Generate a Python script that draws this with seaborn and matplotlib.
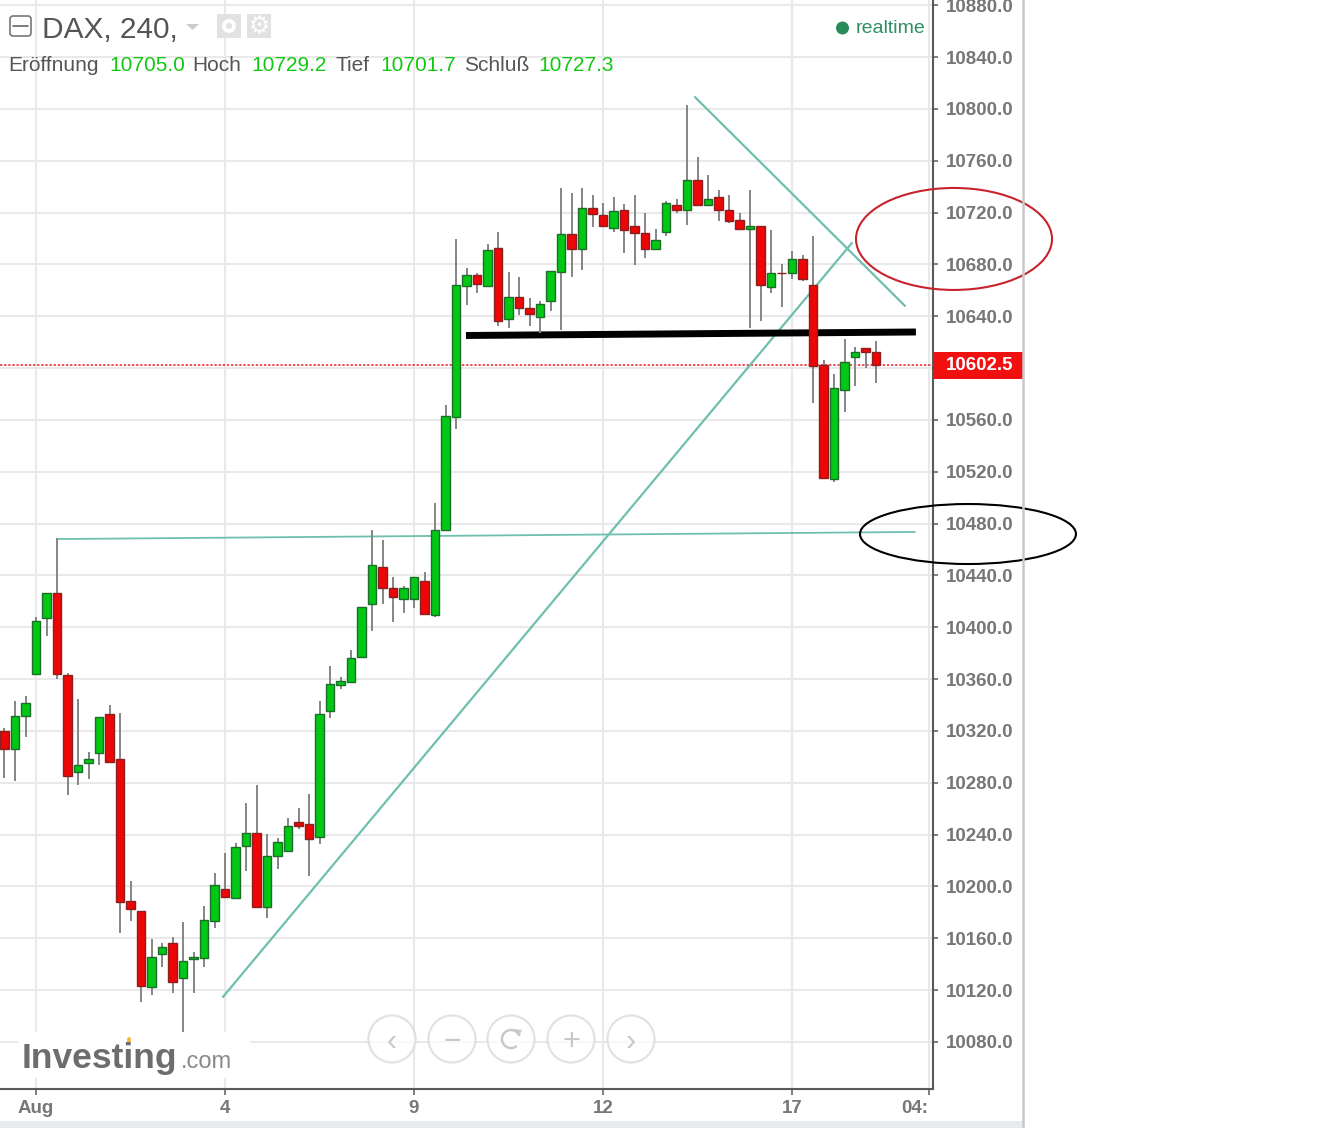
import numpy as np
import pandas as pd
import matplotlib
matplotlib.use('Agg')
import matplotlib.pyplot as plt
import seaborn as sns
from matplotlib.patches import Ellipse, Rectangle, FancyBboxPatch, Circle, Polygon, Arc
from matplotlib.transforms import ScaledTranslation

# DAX 4h candles. bar 0 is the "Aug" tick
bars = list(range(-3, 81))
open_prices = [10320.0, 10305.9, 10331.8, 10364.0, 10407.2, 10426.5, 10363.0, 10288.3, 10295.1, 10303.2,
               10333.3, 10298.4, 10189.0, 10180.8, 10122.2, 10147.9, 10156.4, 10129.1, 10144.1, 10145.1,
               10173.6, 10198.3, 10191.1, 10231.5, 10241.5, 10184.4, 10223.7, 10227.6, 10249.5, 10248.2,
               10238.4, 10335.7, 10355.7, 10357.8, 10377.1, 10418.2, 10446.8, 10430.6, 10422.1, 10422.1,
               10435.7, 10409.7, 10475.1, 10562.5, 10663.6, 10672.1, 10663.6, 10692.5, 10638.2, 10654.7,
               10646.4, 10639.7, 10651.6, 10674.4, 10703.5, 10692.2, 10723.6, 10718.4, 10708.2, 10722.0,
               10709.9, 10704.5, 10692.2, 10705.0, 10726.1, 10722.0, 10745.2, 10726.1, 10731.8, 10722.0,
               10714.1, 10707.1, 10709.9, 10662.4, 10673.7, 10673.4, 10684.0, 10663.9, 10602.7, 10514.2,
               10582.9, 10608.4, 10615.5, 10612.7]
high_prices = [10322.5, 10343.1, 10347.0, 10407.7, 10426.5, 10468.9, 10364.5, 10344.4, 10304.0, 10330.6,
               10340.3, 10333.6, 10204.0, 10180.8, 10159.5, 10156.6, 10160.8, 10172.8, 10149.7, 10184.9,
               10210.6, 10225.6, 10233.3, 10264.7, 10278.1, 10240.5, 10237.6, 10252.6, 10260.8, 10271.4,
               10342.9, 10370.1, 10361.7, 10382.5, 10415.9, 10475.1, 10467.4, 10439.1, 10431.9, 10438.8,
               10442.9, 10495.7, 10571.3, 10699.7, 10677.1, 10673.7, 10695.6, 10705.1, 10674.0, 10670.1,
               10653.9, 10652.1, 10675.0, 10738.8, 10734.9, 10738.8, 10733.4, 10727.7, 10732.1, 10726.7,
               10733.4, 10720.0, 10707.6, 10729.2, 10730.8, 10803.3, 10763.2, 10749.3, 10737.5, 10733.4,
               10720.0, 10737.5, 10709.9, 10706.4, 10680.6, 10690.2, 10687.5, 10702.2, 10606.3, 10595.5,
               10622.3, 10616.1, 10615.5, 10621.2]
low_prices = [10283.5, 10281.4, 10315.1, 10364.0, 10393.3, 10359.9, 10270.4, 10278.3, 10282.7, 10293.5,
              10296.3, 10163.9, 10173.1, 10111.1, 10116.3, 10138.1, 10117.6, 10087.9, 10117.6, 10138.1,
              10167.7, 10192.1, 10191.1, 10212.2, 10184.4, 10175.9, 10213.7, 10227.6, 10244.1, 10208.3,
              10232.6, 10329.8, 10352.4, 10357.8, 10377.1, 10397.4, 10418.0, 10404.3, 10411.3, 10414.9,
              10410.0, 10408.2, 10475.1, 10552.8, 10648.7, 10657.8, 10663.6, 10632.5, 10631.0, 10640.8,
              10632.5, 10627.1, 10644.3, 10629.4, 10670.1, 10675.7, 10709.2, 10709.7, 10705.3, 10689.1,
              10679.6, 10685.0, 10692.2, 10701.7, 10720.0, 10710.7, 10726.1, 10726.1, 10713.8, 10712.2,
              10707.1, 10631.0, 10636.6, 10658.2, 10647.4, 10669.0, 10667.5, 10572.9, 10515.5, 10512.4,
              10566.2, 10586.5, 10599.9, 10588.8]
close_prices = [10305.9, 10331.8, 10341.4, 10404.9, 10426.5, 10364.0, 10285.5, 10294.0, 10298.4, 10330.6,
                10296.3, 10188.3, 10182.8, 10123.2, 10145.6, 10153.5, 10126.3, 10142.7, 10145.6, 10173.9,
                10200.9, 10192.1, 10230.7, 10241.5, 10184.4, 10223.7, 10234.6, 10246.7, 10246.4, 10236.9,
                10333.1, 10356.3, 10358.8, 10376.3, 10415.9, 10448.1, 10430.3, 10423.6, 10430.3, 10438.8,
                10410.0, 10475.1, 10563.1, 10664.2, 10672.1, 10664.9, 10691.2, 10636.6, 10654.7, 10646.2,
                10641.8, 10649.3, 10675.0, 10703.5, 10691.9, 10723.6, 10719.0, 10709.7, 10720.9, 10706.8,
                10704.1, 10692.2, 10699.1, 10727.3, 10722.0, 10745.2, 10726.1, 10730.3, 10722.0, 10713.8,
                10707.1, 10709.9, 10663.9, 10673.4, 10673.2, 10684.0, 10669.0, 10601.7, 10515.5, 10584.4,
                10604.5, 10612.5, 10612.5, 10602.5]

current_price = 10602.5
price_ticks = list(range(10080, 10881, 40))
date_ticks = [0, 18, 36, 54, 72, 85]
date_labels = ['Aug', '4', '9', '12', '17', '04:']

# hand drawn lines on the chart
support_x, support_y = [2, 83.7], [10468.1, 10473.6]
rising_x, rising_y = [17.8, 77.7], [10114.7, 10696.6]
falling_x, falling_y = [62.76, 82.76], [10809.2, 10648.0]
black_x, black_y = [40.95, 83.8], [10625.2, 10627.9]

GRID = '#e9e9e9'
AXIS = '#5a5a5a'
LABEL = '#777777'
TEAL = '#6fbfae'
UP = '#00c814'
DOWN = '#ee0505'

sns.set_style('white')
plt.rcParams['font.family'] = ['Liberation Sans', 'DejaVu Sans']

df = pd.DataFrame({'bar': bars, 'open': open_prices, 'high': high_prices,
                   'low': low_prices, 'close': close_prices})
df['bottom'] = df[['open', 'close']].min(axis=1)
df['height'] = (df['open'] - df['close']).abs()

fig = plt.figure(figsize=(13.24, 11.28), dpi=100)
ax = fig.add_axes([0, 1 - 1088.5 / 1128, 933 / 1324, 1088.5 / 1128])

wicks = df.melt(id_vars='bar', value_vars=['high', 'low'], value_name='price')
sns.lineplot(data=wicks, x='bar', y='price', units='bar', estimator=None, color='#858585',
             linewidth=1.4, legend=False, ax=ax, zorder=4, solid_capstyle='butt')

up = df[df['close'] >= df['open']]
down = df[df['close'] < df['open']]
sns.barplot(data=up, x='bar', y='height', bottom=up['bottom'].values, native_scale=True, width=0.78,
            color=UP, saturation=1, edgecolor='#1d6e2a', linewidth=1.0, errorbar=None, ax=ax, zorder=5)
sns.barplot(data=down, x='bar', y='height', bottom=down['bottom'].values, native_scale=True, width=0.78,
            color=DOWN, saturation=1, edgecolor='#8a2020', linewidth=1.0, errorbar=None, ax=ax, zorder=5)

sns.lineplot(x=support_x, y=support_y, color=TEAL, linewidth=1.3, ax=ax, zorder=3, legend=False)
sns.lineplot(x=rising_x, y=rising_y, color=TEAL, linewidth=1.6, ax=ax, zorder=3, legend=False)
sns.lineplot(x=falling_x, y=falling_y, color=TEAL, linewidth=1.6, ax=ax, zorder=3, legend=False)
sns.lineplot(x=black_x, y=black_y, color='black', linewidth=5, ax=ax, zorder=3, legend=False,
             solid_capstyle='butt')
ax.axhline(current_price, color='#ee1c25', linewidth=1.1, linestyle=(0, (1.5, 1.2)), zorder=2)

ax.set_xlim(-36 / 10.5, (933 - 36) / 10.5)
ax.set_ylim(10884.1 - 1088.5 * 0.7717, 10884.1)
ax.set_xlabel('')
ax.set_ylabel('')
ax.yaxis.tick_right()
ax.set_yticks(price_ticks)
# the 10600 label sits under the red price box, the widget leaves it out
ax.set_yticklabels(['' if p == 10600 else '%.1f' % p for p in price_ticks], fontsize=13.5,
                   color=LABEL, fontweight='bold')
ax.set_xticks(date_ticks)
ax.set_xticklabels(date_labels, fontsize=13.5, color=LABEL, fontweight='bold')
last_label = ax.get_xticklabels()[-1]
last_label.set_ha('right')
last_label.set_transform(last_label.get_transform() + ScaledTranslation(2 / 100, 0, fig.dpi_scale_trans))
ax.tick_params(axis='x', length=4, width=1.1, color=AXIS, pad=4.5, bottom=True)
ax.tick_params(axis='y', length=3.5, width=1.1, color=AXIS, pad=6, right=True, left=False)
ax.grid(True, color=GRID, linewidth=1.5, zorder=0)
ax.set_axisbelow(True)
for side in ['top', 'left']:
    ax.spines[side].set_visible(False)
for side in ['bottom', 'right']:
    ax.spines[side].set_color(AXIS)
    ax.spines[side].set_linewidth(1.5)

# the circles were drawn by hand and run past the axes
ax.add_patch(Ellipse((87.43, 10699.7), 18.67, 78.7, fill=False, edgecolor='#c8232c',
                     linewidth=1.5, clip_on=False, zorder=6))
ax.add_patch(Ellipse((88.76, 10472.0), 20.57, 46.3, fill=False, edgecolor='black',
                     linewidth=1.5, clip_on=False, zorder=6))

# widget chrome in pixel coordinates
ui = fig.add_axes([0, 0, 1, 1], zorder=10)
ui.set_xlim(0, 1324)
ui.set_ylim(1128, 0)
ui.axis('off')
ui.patch.set_alpha(0)

ui.add_patch(Rectangle((0, 1121), 1023, 7, facecolor='#e8ebee', edgecolor='none'))
ui.plot([1023, 1023], [0, 1128], color='#c9c9c9', linewidth=1.8)

ui.add_patch(Rectangle((933, 352), 90, 27, facecolor='#f01010', edgecolor='none'))
ui.text(946, 366, '10602.5', color='white', fontsize=13.5, fontweight='bold', va='center')

# header
ui.add_patch(FancyBboxPatch((10, 16), 21, 20, boxstyle='round,pad=0,rounding_size=3',
                            facecolor='white', edgecolor='#777777', linewidth=1.2))
ui.plot([13, 28], [26, 26], color='#666666', linewidth=1.2)
ui.text(42, 38, 'DAX, 240,', color='#555555', fontsize=21.5, va='baseline')
ui.add_patch(Polygon([(186, 24), (199, 24), (192.5, 30)], facecolor='#cccccc', edgecolor='none'))
ui.add_patch(Rectangle((217, 14), 24, 24, facecolor='#e2e2e2', edgecolor='none'))
ui.add_patch(Circle((229, 26), 7, facecolor='white', edgecolor='none'))
ui.add_patch(Circle((229, 26), 3, facecolor='#e2e2e2', edgecolor='none'))
ui.add_patch(Rectangle((247, 14), 24, 24, facecolor='#e2e2e2', edgecolor='none'))
ui.text(259, 26, '⚙', color='white', fontsize=17, family=['DejaVu Sans'], ha='center', va='center')

header_words = [(8.5, 'Eröffnung', '#555555'), (109.5, '10705.0', '#12c912'), (192.5, 'Hoch', '#555555'),
                (251.5, '10729.2', '#12c912'), (336, 'Tief', '#555555'), (380, '10701.7', '#12c912'),
                (464, 'Schluß', '#555555'), (538.5, '10727.3', '#12c912')]
for wx, word, col in header_words:
    ui.text(wx, 71, word, color=col, fontsize=15, va='baseline')

ui.add_patch(Circle((842.5, 28), 6.5, facecolor='#2a8a5a', edgecolor='none'))
ui.text(856, 33, 'realtime', color='#2f8f62', fontsize=14, va='baseline')

# logo
ui.add_patch(Rectangle((18, 1032), 232, 46, facecolor='white', edgecolor='none'))
ui.text(22, 1068, 'Investing', color='#6d6d6d', fontsize=25.5, fontweight='bold', va='baseline')
ui.text(181, 1068, '.com', color='#8a8a8a', fontsize=17, va='baseline')
ui.add_patch(Ellipse((129, 1040), 4, 6, facecolor='#f3b740', edgecolor='none'))

# zoom buttons
button_x = [392, 452, 511, 571, 631]
button_glyph = ['‹', '−', '', '+', '›']
for bx, glyph in zip(button_x, button_glyph):
    ui.add_patch(Ellipse((bx, 1039), 47, 47, facecolor='white', edgecolor='#d9d9d9',
                         linewidth=1.6, alpha=0.75))
    if glyph:
        ui.text(bx, 1038.5, glyph, color='#c8c8c8', fontsize=22, ha='center', va='center_baseline')
ui.add_patch(Arc((511, 1039), 18, 18, theta1=-310, theta2=-20, edgecolor='#c8c8c8', linewidth=1.8))
ui.add_patch(Polygon([(514, 1029), (522, 1030), (519, 1036)], facecolor='#c8c8c8', edgecolor='none'))

fig.savefig('out.png', dpi=100)
